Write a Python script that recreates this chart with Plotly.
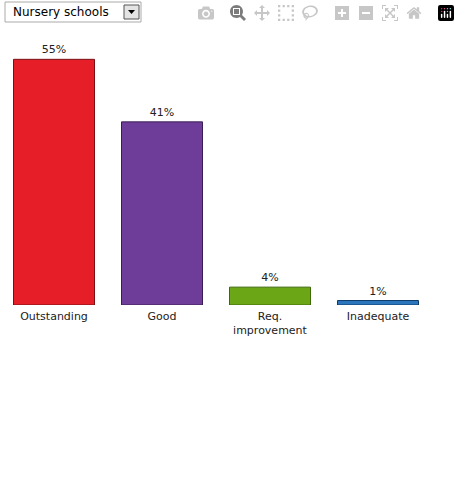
import plotly.graph_objects as go

categories = ["Outstanding", "Good", "Req.<br>improvement", "Inadequate"]
values = [55, 41, 4, 1]
labels = ["55%", "41%", "4%", "1%"]
colors = ["#e61e28", "#6e3d9a", "#6aa616", "#2a75bb"]
lines = ["#7a1015", "#3a1f55", "#3f6a0a", "#0f3c6a"]

fig = go.Figure(go.Bar(
    x=categories, y=values, text=labels, textposition="outside",
    marker=dict(color=colors, line=dict(color=lines, width=1)),
    textfont=dict(family="DejaVu Sans", size=11, color="#222"),
    cliponaxis=False, width=0.75,
))

def px(x): return x / 432
def py(y): return (305 - y) / 268

shapes = [
    dict(type="rect", xref="paper", yref="paper", x0=px(5), x1=px(141), y0=py(22), y1=py(2),
         line=dict(color="#aaaaaa", width=1), fillcolor="white"),
    dict(type="rect", xref="paper", yref="paper", x0=px(124), x1=px(139), y0=py(19), y1=py(5),
         line=dict(color="#555", width=1), fillcolor="#e4e4e4"),
    dict(type="path", xref="paper", yref="paper",
         path=f"M {px(128)} {py(10)} L {px(135)} {py(10)} L {px(131.5)} {py(14)} Z",
         fillcolor="black", line=dict(width=0)),
]

fig.update_layout(
    width=460, height=500, margin=dict(l=0, r=28, t=37, b=195),
    paper_bgcolor="white", plot_bgcolor="white", showlegend=False,
    font=dict(family="DejaVu Sans", size=11, color="#222"),
    xaxis=dict(showgrid=False, showline=False, ticks="", zeroline=False, ticklabelstandoff=3),
    yaxis=dict(range=[0, 60], visible=False),
    shapes=shapes,
    annotations=[dict(text="Nursery schools", xref="paper", yref="paper", x=px(11), y=py(12),
                      xanchor="left", yanchor="middle", showarrow=False,
                      font=dict(family="DejaVu Sans", size=12, color="black"))],
)

fig.write_html("out.html", post_script="document.body.style.margin='0';")
